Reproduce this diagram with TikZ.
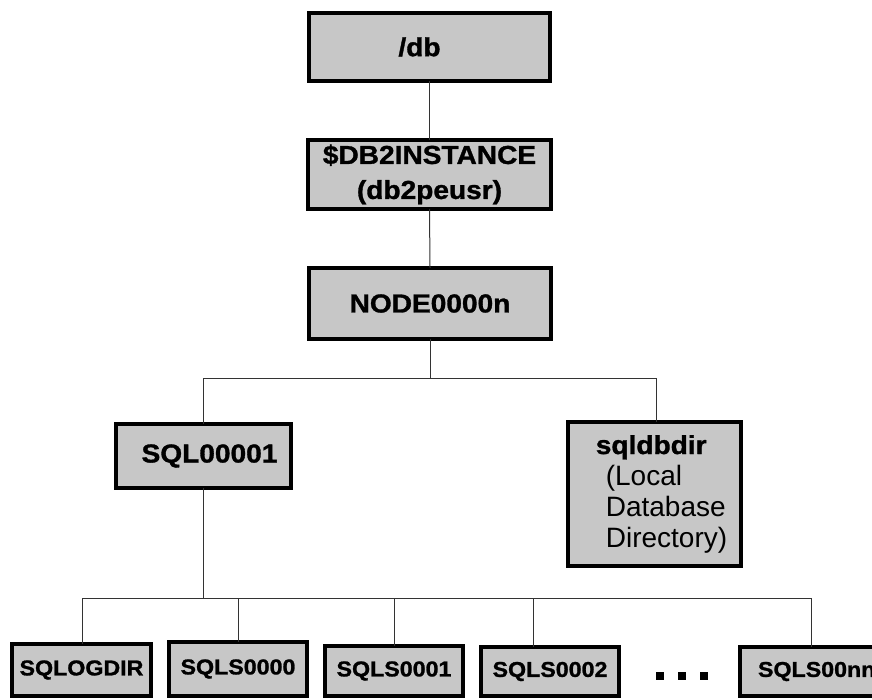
\documentclass[tikz,border=0pt]{standalone}
\usepackage{fontspec}
\setmainfont{Liberation Sans}[BoldFeatures={FakeStretch=1.08,FakeBold=1.2}]
\begin{document}
\begin{tikzpicture}[x=1pt,y=-1pt,
  dirbox/.style={draw=black, line width=4pt, fill=black!22, rectangle,
    inner sep=0pt, outer sep=0pt, font=\fontsize{26}{35}\selectfont\bfseries},
  smallbox/.style={dirbox, font=\fontsize{21.5}{26}\selectfont\bfseries},
  link/.style={draw=black!80, line width=1pt}]
\useasboundingbox (0,0) rectangle (872,700);

% upper chain
\node[dirbox, minimum width=241, minimum height=68] (db) at (429.5,47) {\hspace*{-20pt}/db};
\node[dirbox, minimum width=243, minimum height=69, align=center] (inst) at (429.5,174.5)
  {\$DB2INSTANCE\\(db2peusr)};
\node[dirbox, minimum width=242, minimum height=71] (node) at (430,303.5) {NODE0000n};

% second level
\node[dirbox, minimum width=175, minimum height=64] (sql1) at (203.5,456) {\hspace*{12pt}SQL00001};
\node[dirbox, minimum width=173, minimum height=144, align=left, font=\fontsize{28}{31}\selectfont] (sdb) at (654.5,494)
  {\hspace*{14pt}{\fontsize{26}{31}\selectfont\bfseries sqldbdir}\\\hspace*{24pt}(Local\\\hspace*{24pt}Database\\\hspace*{24pt}Directory)};

% bottom level
\node[smallbox, minimum width=139, minimum height=52] (logd) at (81.5,670) {SQLOGDIR};
\node[smallbox, minimum width=138, minimum height=54] (s0) at (238,669) {SQLS0000};
\node[smallbox, minimum width=138, minimum height=50] (s1) at (394,671) {SQLS0001};
\node[smallbox, minimum width=138, minimum height=49] (s2) at (550,671.5) {SQLS0002};
\node[smallbox, minimum width=148, minimum height=49, align=left, text width=112] (snn) at (814,671.5) {SQLS00nn};
\node (dots) at (682,676) {\rule{8pt}{8pt}\hspace{14pt}\rule{8pt}{8pt}\hspace{14pt}\rule{8pt}{8pt}};

% connectors
\draw[link] (db.south) -- (inst.north);
\draw[link] (inst.south) -- (node.north);

\coordinate (busA) at (430,378);
\coordinate (busAl) at (203,378);
\coordinate (busAr) at (656,378);
\draw[link] (node.south) -- (busA);
\draw[link] (busAl) -- (busAr);
\draw[link] (busAl) -- (busAl |- sql1.north);
\draw[link] (busAr) -- (busAr |- sdb.north);

\coordinate (busB) at (203,598);
\coordinate (d1) at (82,598);
\coordinate (d2) at (238,598);
\coordinate (d3) at (394,598);
\coordinate (d4) at (533,598);
\coordinate (d5) at (811,598);
\draw[link] (sql1.south -| busB) -- (busB);
\draw[link] (d1) -- (d5);
\draw[link] (d1) -- (d1 |- logd.north);
\draw[link] (d2) -- (d2 |- s0.north);
\draw[link] (d3) -- (d3 |- s1.north);
\draw[link] (d4) -- (d4 |- s2.north);
\draw[link] (d5) -- (d5 |- snn.north);
\end{tikzpicture}
\end{document}
